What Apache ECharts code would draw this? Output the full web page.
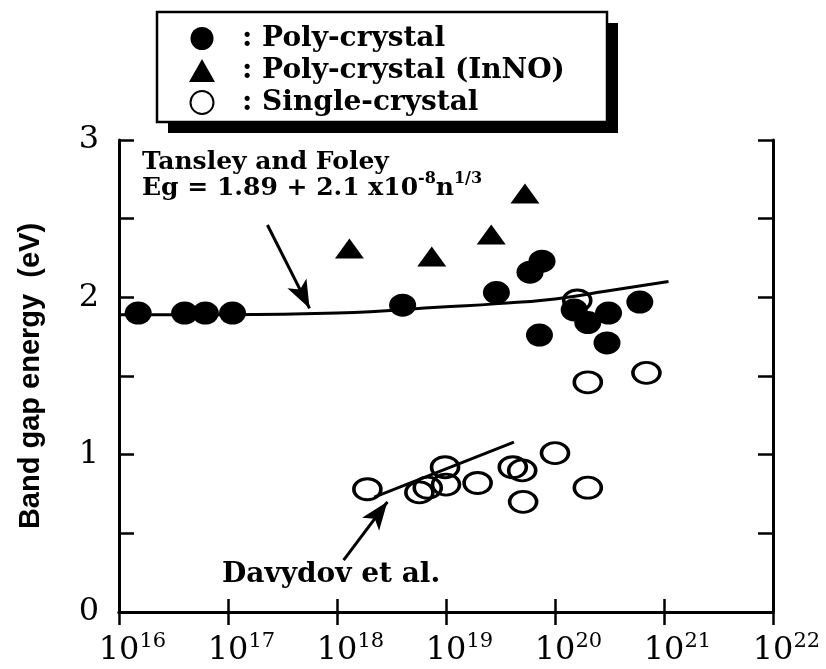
<!DOCTYPE html>
<html>
<head>
<meta charset="utf-8">
<script src="https://cdn.jsdelivr.net/npm/echarts@6/dist/echarts.min.js"></script>
<style>html,body{margin:0;padding:0;background:#fff}#c{width:826px;height:669px}</style>
</head>
<body>
<div id="c"></div>
<script>
// ---- data ----
const seriesNames = ['Poly-crystal', 'Poly-crystal (InNO)', 'Single-crystal'];
const polyN  = [1.5e16, 4.0e16, 6.2e16, 1.1e17, 4.0e18, 2.9e19, 5.9e19, 7.6e19, 7.2e19, 1.5e20, 2.0e20, 3.1e20, 3.0e20, 6.0e20];
const polyEg = [1.90,   1.90,   1.90,   1.90,   1.95,   2.03,   2.16,   2.23,   1.76,   1.92,   1.84,   1.90,   1.71,   1.97];
const innoN  = [1.3e18, 7.4e18, 2.6e19, 5.3e19];
const innoEg = [2.31,   2.26,   2.40,   2.66];
const singleN  = [1.6e20, 2.0e20, 6.9e20, 1.0e20, 2.0e20, 5.1e19, 5.0e19, 4.1e19, 1.95e19, 1.0e19, 9.8e18, 5.7e18, 6.8e18, 1.9e18];
const singleEg = [1.98,   1.46,   1.52,   1.01,   0.79,   0.70,   0.90,   0.92,   0.82,    0.81,   0.92,   0.76,   0.79,   0.78];
const tansleyN  = [1e16, 1e17, 1e18, 1e19, 3e19, 1e20, 3e20, 1.1e21];
const tansleyEg = [1.89, 1.89, 1.90, 1.94, 1.96, 1.99, 2.04, 2.10];
const davydovN  = [2.2e18, 4.2e19];
const davydovEg = [0.73, 1.08];
const tansleyArrowN  = [2.3e17, 5.6e17];
const tansleyArrowEg = [2.46, 1.93];
const davydovArrowN  = [1.15e18, 2.9e18];
const davydovArrowEg = [0.33, 0.70];
const xTickExp = ['16', '17', '18', '19', '20', '21', '22'];
const yTickLabels = ['0', '1', '2', '3'];

const pairs = (xs, ys) => xs.map((x, i) => [x, ys[i]]);
const serif = "'DejaVu Serif', 'Liberation Serif', serif";

const chart = echarts.init(document.getElementById('c'), null, {renderer: 'canvas'});

const axisLine = {show: true, lineStyle: {color: '#000', width: 3}};
const xTick = {show: true, inside: true, length: 13, lineStyle: {color: '#000', width: 2.5}};
const yTick = {show: true, inside: true, length: 15, lineStyle: {color: '#000', width: 2.5}};

function arrowLine(xs, ys) {
  return {
    silent: true,
    symbol: ['none', 'arrow'],
    symbolSize: [16, 28],
    lineStyle: {color: '#000', width: 3, type: 'solid', opacity: 1},
    itemStyle: {color: '#000', opacity: 1},
    label: {show: false},
    emphasis: {disabled: true},
    data: [[{coord: [xs[0], ys[0]]}, {coord: [xs[1], ys[1]]}]]
  };
}

const option = {
  animation: false,
  backgroundColor: '#fff',
  grid: {left: 119, right: 53, top: 140, bottom: 57, containLabel: false},
  legend: {
    data: seriesNames,
    orient: 'vertical',
    left: 189, top: 23,
    padding: 0,
    itemWidth: 26, itemHeight: 23, itemGap: 1,
    formatter: n => ': ' + n,
    textStyle: {fontFamily: serif, fontWeight: 'bold', fontSize: 28, color: '#000', lineHeight: 31, padding: [0, 0, 0, 22]},
    selectedMode: false
  },
  xAxis: [{
    type: 'log', logBase: 10, min: 1e16, max: 1e22, splitNumber: 6,
    position: 'bottom',
    axisLine, axisTick: xTick, splitLine: {show: false}, minorTick: {show: false},
    axisLabel: {
      margin: 19,
      formatter: function (v) {
        const i = Math.round(Math.log10(v)) - 16;
        return '{pad|}{b|10}{s|' + xTickExp[i] + '}';
      },
      rich: {
        pad: {width: 27},
        b: {fontFamily: serif, fontSize: 32, color: '#000', lineHeight: 36, verticalAlign: 'bottom'},
        s: {fontFamily: serif, fontSize: 21, color: '#000', lineHeight: 22, verticalAlign: 'top', width: 27}
      }
    }
  }, {
    type: 'log', logBase: 10, min: 1e16, max: 1e22, splitNumber: 6,
    position: 'top',
    axisLine, axisTick: xTick, splitLine: {show: false}, axisLabel: {show: false}
  }],
  yAxis: [{
    type: 'value', min: 0, max: 3, interval: 0.5, position: 'left',
    axisLine, axisTick: yTick, splitLine: {show: false},
    axisLabel: {
      margin: 20, fontFamily: serif, fontSize: 32, color: '#000',
      formatter: v => (Math.abs(v - Math.round(v)) < 1e-9 ? yTickLabels[Math.round(v)] : '')
    },
    name: 'Band gap energy  (eV)',
    nameLocation: 'middle', nameGap: 74, nameRotate: 90,
    nameTextStyle: {fontFamily: "'Liberation Sans', Arial, sans-serif", fontWeight: 'bold', fontSize: 29, color: '#000'}
  }, {
    type: 'value', min: 0, max: 3, interval: 0.5, position: 'right',
    axisLine, axisTick: yTick, splitLine: {show: false}, axisLabel: {show: false}
  }],
  graphic: [
    {type: 'rect', z: -10, shape: {x: 168, y: 23, width: 450, height: 110}, style: {fill: '#000'}},
    {type: 'rect', z: -9, shape: {x: 157, y: 12, width: 450, height: 110}, style: {fill: '#fff', stroke: '#000', lineWidth: 2.5}},
    {type: 'text', left: 142, top: 150, style: {text: 'Tansley and Foley', fontFamily: serif, fontWeight: 'bold', fontSize: 25, fill: '#000'}},
    {type: 'text', left: 142, top: 171, style: {
      text: '{t|Eg = 1.89 + 2.1 x10}{s|-8}{t|n}{s|1/3}',
      rich: {
        t: {fontFamily: serif, fontWeight: 'bold', fontSize: 25, fill: '#000', lineHeight: 30, verticalAlign: 'bottom'},
        s: {fontFamily: serif, fontWeight: 'bold', fontSize: 16, fill: '#000', lineHeight: 16, verticalAlign: 'top'}
      }
    }},
    {type: 'text', left: 222, top: 561, style: {text: 'Davydov et al.', fontFamily: serif, fontWeight: 'bold', fontSize: 28, fill: '#000'}}
  ],
  series: [
    {
      name: seriesNames[0], type: 'scatter', data: pairs(polyN, polyEg),
      symbol: 'circle', symbolSize: [27, 23], itemStyle: {color: '#000', opacity: 1}, z: 5
    },
    {
      name: seriesNames[1], type: 'scatter', data: pairs(innoN, innoEg),
      symbol: 'triangle', symbolSize: [29, 20], itemStyle: {color: '#000', opacity: 1}, z: 5
    },
    {
      name: seriesNames[2], type: 'scatter', data: pairs(singleN, singleEg),
      symbol: 'circle', symbolSize: [27, 21],
      itemStyle: {color: 'rgba(255,255,255,0)', borderColor: '#000', borderWidth: 3.2, opacity: 1}, z: 5
    },
    {
      name: 'Tansley and Foley', type: 'line', data: pairs(tansleyN, tansleyEg),
      smooth: true, showSymbol: false, lineStyle: {color: '#000', width: 3}, z: 3,
      markLine: arrowLine(tansleyArrowN, tansleyArrowEg)
    },
    {
      name: 'Davydov et al.', type: 'line', data: pairs(davydovN, davydovEg),
      showSymbol: false, lineStyle: {color: '#000', width: 3}, z: 3,
      markLine: arrowLine(davydovArrowN, davydovArrowEg)
    }
  ]
};
chart.setOption(option);
</script>
</body>
</html>
